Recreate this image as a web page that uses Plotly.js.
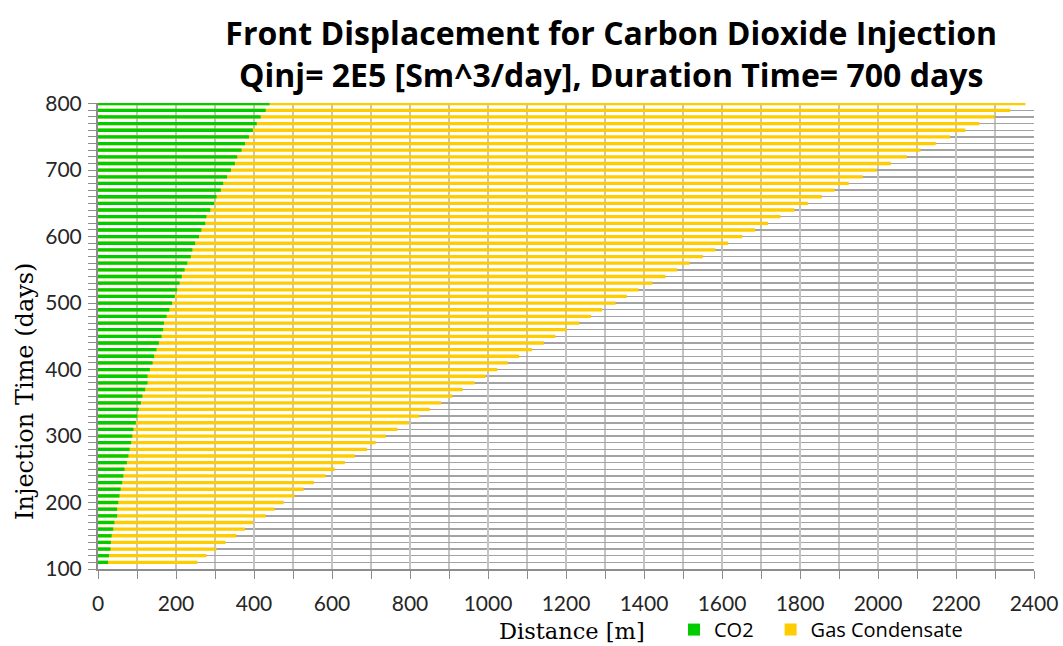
<!DOCTYPE html>
<html>
<head>
<meta charset="utf-8">
<script src="https://cdn.plot.ly/plotly-3.0.1.min.js"></script>
<style>
  html, body { margin: 0; padding: 0; background: #ffffff; }
  #chart { width: 1063px; height: 646px; }
</style>
</head>
<body>
<div id="chart"></div>
<script>
// Injection time of each snapshot (days)
const injectionDays = [
  110, 120, 130, 140, 150, 160, 170, 180, 190, 200,
  210, 220, 230, 240, 250, 260, 270, 280, 290, 300,
  310, 320, 330, 340, 350, 360, 370, 380, 390, 400,
  410, 420, 430, 440, 450, 460, 470, 480, 490, 500,
  510, 520, 530, 540, 550, 560, 570, 580, 590, 600,
  610, 620, 630, 640, 650, 660, 670, 680, 690, 700,
  710, 720, 730, 740, 750, 760, 770, 780, 790, 800
];

// Distance reached by the injected CO2 front (m)
const co2Front = [
   26,  28,  32,  33,  35,  39,  42,  49,  49,  52,
   55,  58,  62,  65,  68,  74,  78,  81,  85,  88,
   91,  97, 101, 104, 110, 114, 121, 127, 127, 133,
  140, 144, 150, 156, 163, 167, 169, 176, 183, 190,
  197, 203, 209, 215, 222, 229, 238, 242, 249, 259,
  265, 275, 278, 288, 298, 304, 315, 321, 331, 341,
  351, 357, 368, 377, 387, 397, 407, 417, 430, 440
];

// Distance reached by the displaced gas condensate bank (m)
const condensateFront = [
   255,  278,  304,  327,  355,  377,  398,  430,  453,  476,
   504,  527,  554,  584,  607,  633,  659,  690,  712,  738,
   768,  797,  824,  851,  880,  909,  935,  966,  994, 1024,
  1051, 1080, 1113, 1143, 1173, 1202, 1234, 1264, 1293, 1327,
  1356, 1386, 1422, 1455, 1485, 1517, 1551, 1583, 1616, 1652,
  1685, 1718, 1750, 1786, 1820, 1856, 1889, 1925, 1961, 1997,
  2033, 2074, 2109, 2148, 2185, 2224, 2260, 2299, 2339, 2378
];

const seriesNames = ['CO2', 'Gas Condensate'];
const seriesColors = ['#00cc00', '#ffcc00'];

const gridGrey = '#a3a3a3';
const vGridGrey = '#c4c4c4';
const axisGrey = '#8c8c8c';
const tickFont = { family: 'Lato, "Open Sans", sans-serif', size: 21, color: '#262626' };
const serif = '"DejaVu Serif", serif';
const legendFont = { family: '"Open Sans", sans-serif', size: 20, color: '#000000' };

// Condensate bank drawn first from the origin; CO2 overlays it from the origin too
const traces = [
  {
    type: 'bar', orientation: 'h',
    name: seriesNames[1],
    legend: 'legend2',
    x: condensateFront, y: injectionDays,
    width: 5,
    marker: { color: seriesColors[1], line: { width: 0 } },
    hoverinfo: 'x+y+name'
  },
  {
    type: 'bar', orientation: 'h',
    name: seriesNames[0],
    legend: 'legend',
    x: co2Front, y: injectionDays,
    width: 5,
    marker: { color: seriesColors[0], line: { width: 0 } },
    hoverinfo: 'x+y+name'
  }
];

const layout = {
  width: 1063, height: 646,
  paper_bgcolor: '#ffffff', plot_bgcolor: '#ffffff',
  margin: { l: 98, r: 29, t: 103, b: 77, pad: 0, autoexpand: false },
  barmode: 'overlay',
  showlegend: true,
  title: {
    text: '<b>Front Displacement for Carbon Dioxide Injection<br>Qinj= 2E5 [Sm^3/day], Duration Time= 700 days</b>',
    font: { family: '"Open Sans", sans-serif', size: 32, color: '#000000' },
    x: 0.575, xanchor: 'center', xref: 'container',
    y: 0.930, yanchor: 'top', yref: 'container'
  },
  xaxis: {
    range: [0, 2400],
    tick0: 0, dtick: 200,
    ticks: 'outside', ticklen: 8, tickwidth: 1, tickcolor: axisGrey,
    showgrid: true, gridcolor: vGridGrey, gridwidth: 2,
    minor: { dtick: 100, ticks: 'outside', ticklen: 8, tickcolor: axisGrey,
             showgrid: true, gridcolor: vGridGrey, gridwidth: 2 },
    showline: true, linecolor: axisGrey, linewidth: 2, mirror: false,
    zeroline: false, automargin: false,
    tickfont: tickFont,
    ticklabelstandoff: 7
  },
  yaxis: {
    range: [100, 801],
    tick0: 0, dtick: 100,
    ticks: 'outside', ticklen: 8, tickwidth: 1, tickcolor: axisGrey,
    showgrid: true, gridcolor: gridGrey, gridwidth: 1.5,
    minor: { dtick: 10, ticks: 'outside', ticklen: 8, tickcolor: axisGrey,
             showgrid: true, gridcolor: gridGrey, gridwidth: 1.5 },
    showline: true, linecolor: axisGrey, linewidth: 2,
    zeroline: false, automargin: false,
    tickfont: tickFont,
    ticklabelstandoff: 2
  },
  annotations: [
    {
      // x-axis title, a little right of the plot's centre
      text: 'Distance [m]',
      xref: 'paper', yref: 'paper',
      x: 0.5064, y: -0.134,
      xanchor: 'center', yanchor: 'middle',
      showarrow: false,
      font: { family: serif, size: 22.5, color: '#000000' }
    },
    {
      // y-axis title, set lower than the plot's mid-height
      text: 'Injection Time (days)',
      textangle: -90,
      xref: 'paper', yref: 'paper',
      x: -0.078, y: 0.382,
      xanchor: 'center', yanchor: 'middle',
      showarrow: false,
      font: { family: serif, size: 24, color: '#000000' }
    }
  ],
  legend: {
    orientation: 'h',
    x: 0.6154, xanchor: 'left',
    y: -0.130, yanchor: 'middle',
    font: legendFont,
    itemwidth: 30,
    bgcolor: 'rgba(0,0,0,0)'
  },
  legend2: {
    orientation: 'h',
    x: 0.7186, xanchor: 'left',
    y: -0.130, yanchor: 'middle',
    font: legendFont,
    itemwidth: 30,
    bgcolor: 'rgba(0,0,0,0)'
  }
};

Plotly.newPlot('chart', traces, layout, { displayModeBar: false, staticPlot: true });
</script>
</body>
</html>
